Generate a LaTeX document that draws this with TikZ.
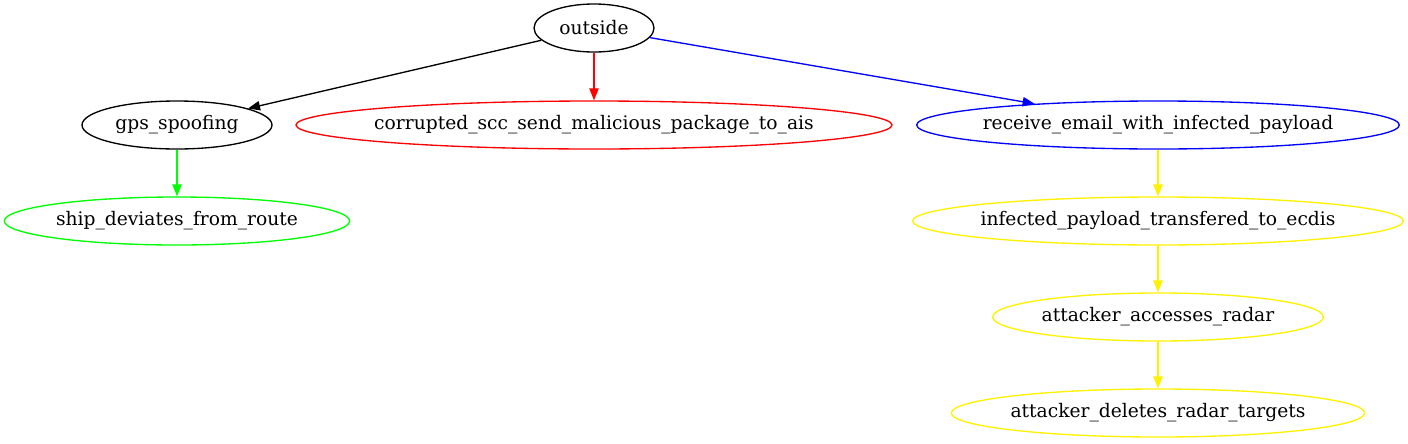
\documentclass[tikz,border=0pt]{standalone}
\usepackage{fontspec}
\setmainfont{DejaVu Serif}
\usetikzlibrary{shapes.geometric,arrows.meta}

\begin{document}
\begin{tikzpicture}[x=0.75pt,y=-0.75pt,
    state/.style={ellipse, draw, line width=1pt, inner xsep=-40pt, inner ysep=0pt,
      minimum height=36pt, font=\fontsize{14}{16}\selectfont},
    edge/.style={line width=1pt, -{Triangle[length=9pt,width=7pt]}}]
    \useasboundingbox (0,0) rectangle (1408,443);
    \node[state, minimum width=90pt] (outside) at (594,28) {outside};
    \node[state, minimum width=142.5pt] (gps) at (177,125) {gps\_spoofing};
    \node[state, red, text=black, minimum width=447pt] (ais) at (594,125) {corrupted\_scc\_send\_malicious\_package\_to\_ais};
    \node[state, blue, text=black, minimum width=362pt] (email) at (1158,125) {receive\_email\_with\_infected\_payload};
    \node[state, green, text=black, minimum width=259pt] (ship) at (177,221) {ship\_deviates\_from\_route};
    \node[state, yellow, text=black, minimum width=368pt] (ecdis) at (1158,221) {infected\_payload\_transfered\_to\_ecdis};
    \node[state, yellow, text=black, minimum width=248pt] (radar) at (1158,317) {attacker\_accesses\_radar};
    \node[state, yellow, text=black, minimum width=310pt] (targets) at (1158,413) {attacker\_deletes\_radar\_targets};
    \draw[edge] (outside) -- (gps);
    \draw[edge, red] (outside) -- (ais);
    \draw[edge, blue] (outside) -- (email);
    \draw[edge, green] (gps) -- (ship);
    \draw[edge, yellow] (email) -- (ecdis);
    \draw[edge, yellow] (ecdis) -- (radar);
    \draw[edge, yellow] (radar) -- (targets);
  \end{tikzpicture}
\end{document}
